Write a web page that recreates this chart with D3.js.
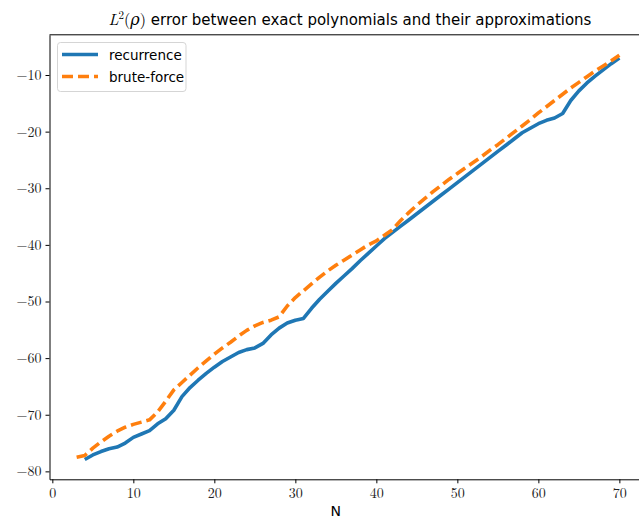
<!DOCTYPE html>
<html><head><meta charset="utf-8">
<script src="https://cdn.jsdelivr.net/npm/d3@7"></script>
<style>body{margin:0;background:#fff}svg{display:block}</style>
</head><body><div id="chart"></div>
<script>
const recurrenceN = d3.range(4, 71);
const recurrence = [-77.9,-77.1,-76.5,-76.0,-75.7,-75.0,-74.0,-73.4,-72.8,-71.6,-70.7,-69.2,-66.8,-65.2,-63.9,-62.7,-61.6,-60.6,-59.8,-59.0,-58.5,-58.2,-57.4,-55.9,-54.7,-53.8,-53.3,-53.0,-51.2,-49.6,-48.2,-46.8,-45.5,-44.2,-42.8,-41.5,-40.2,-38.9,-37.8,-36.7,-35.6,-34.5,-33.4,-32.3,-31.2,-30.1,-29.0,-27.9,-26.8,-25.7,-24.6,-23.5,-22.4,-21.3,-20.2,-19.4,-18.6,-18.0,-17.6,-16.8,-14.5,-12.8,-11.4,-10.2,-9.1,-8.0,-7.0];
const bruteN = d3.range(3, 71);
const bruteForce = [-77.5,-77.2,-75.9,-74.8,-73.8,-72.9,-72.2,-71.7,-71.3,-70.9,-69.5,-67.6,-65.6,-64.3,-63.0,-61.7,-60.5,-59.3,-58.2,-57.2,-56.1,-55.1,-54.3,-53.7,-53.3,-52.7,-50.8,-49.3,-48.1,-46.9,-45.7,-44.6,-43.6,-42.7,-41.8,-40.9,-40.0,-39.3,-38.3,-37.3,-35.7,-34.3,-33.0,-31.8,-30.6,-29.5,-28.4,-27.4,-26.4,-25.4,-24.4,-23.3,-22.3,-21.2,-20.1,-19.0,-17.9,-16.7,-15.6,-14.5,-13.4,-12.3,-11.3,-10.3,-9.3,-8.4,-7.5,-6.5];
const xTicks = [0,10,20,30,40,50,60,70];
const yTicks = [-80,-70,-60,-50,-40,-30,-20,-10];
const seriesNames = ["recurrence","brute-force"];
const colors = ["#1f77b4","#ff7f0e"];

const W = 639, H = 522;
const svg = d3.select("#chart").append("svg").attr("width", W).attr("height", H);
const x = d3.scaleLinear().domain([-0.35, 73.35]).range([49.5, 646.5]);
const y = d3.scaleLinear().domain([-81.4, -2.9]).range([479.3, 34.8]);

const serif = "'Latin Modern Roman','CMU Serif','DejaVu Serif',serif";
const sans = "'DejaVu Sans',sans-serif";

// lines
const line = d3.line().x(d => x(d[0])).y(d => y(d[1])).curve(d3.curveLinear);
svg.append("path").datum(recurrenceN.map((n,i)=>[n,recurrence[i]]))
  .attr("d", line).attr("fill","none").attr("stroke",colors[0])
  .attr("stroke-width",3.6).attr("stroke-linejoin","round").attr("stroke-linecap","butt");
svg.append("path").datum(bruteN.map((n,i)=>[n,bruteForce[i]]))
  .attr("d", line).attr("fill","none").attr("stroke",colors[1])
  .attr("stroke-width",3.6).attr("stroke-dasharray","11,5").attr("stroke-linejoin","round");

// axes
const xAxis = svg.append("g").attr("transform",`translate(0,${y.range()[0]})`)
  .call(d3.axisBottom(x).tickValues(xTicks).tickSize(4).tickPadding(5).tickSizeOuter(0));
const yAxis = svg.append("g").attr("transform",`translate(${x.range()[0]},0)`)
  .call(d3.axisLeft(y).tickValues(yTicks).tickSize(4).tickPadding(4).tickSizeOuter(0));
[xAxis,yAxis].forEach(g=>{
  g.select(".domain").attr("stroke","#000").attr("stroke-width",1);
  g.selectAll(".tick line").attr("stroke","#000").attr("stroke-width",1);
  g.selectAll(".tick text").attr("font-family",serif).attr("font-size",14).attr("fill","#222");
});
// top spine
svg.append("line").attr("x1",x.range()[0]).attr("x2",W).attr("y1",y.range()[1]).attr("y2",y.range()[1])
  .attr("stroke","#000").attr("stroke-width",1);

// title
const t = svg.append("text").attr("x", 350).attr("y", 25).attr("text-anchor","middle")
  .attr("font-family",sans).attr("font-size",15).attr("fill","#000");
t.append("tspan").attr("font-family",serif).attr("font-style","italic").attr("font-size",16).text("L");
t.append("tspan").attr("font-family",serif).attr("font-size",11).attr("dy",-6).text("2");
t.append("tspan").attr("font-family",serif).attr("font-size",16).attr("dy",6).text("(");
t.append("tspan").attr("font-family",serif).attr("font-style","italic").attr("font-size",16).text("ρ");
t.append("tspan").attr("font-family",serif).attr("font-size",16).text(")");
t.append("tspan").text(" error between exact polynomials and their approximations");

// x label
svg.append("text").attr("x",(x(0)+x(70))/2+0).attr("y",516).attr("text-anchor","middle")
  .attr("font-family",sans).attr("font-size",14).text("N");

// legend
const lg = svg.append("g");
lg.append("rect").attr("x",57.5).attr("y",42.5).attr("width",128.5).attr("height",49).attr("rx",3)
  .attr("fill","#fff").attr("fill-opacity",0.8).attr("stroke","#d5d5d5").attr("stroke-width",1);
seriesNames.forEach((name,i)=>{
  const yy = 54.5 + i*22;
  lg.append("line").attr("x1",62).attr("x2",98).attr("y1",yy).attr("y2",yy)
    .attr("stroke",colors[i]).attr("stroke-width",3.6)
    .attr("stroke-dasharray", i===1 ? "11,5" : null);
  lg.append("text").attr("x",109).attr("y",yy+5).attr("font-family",sans).attr("font-size",13.5)
    .attr("fill","#000").text(name);
});
</script></body></html>
